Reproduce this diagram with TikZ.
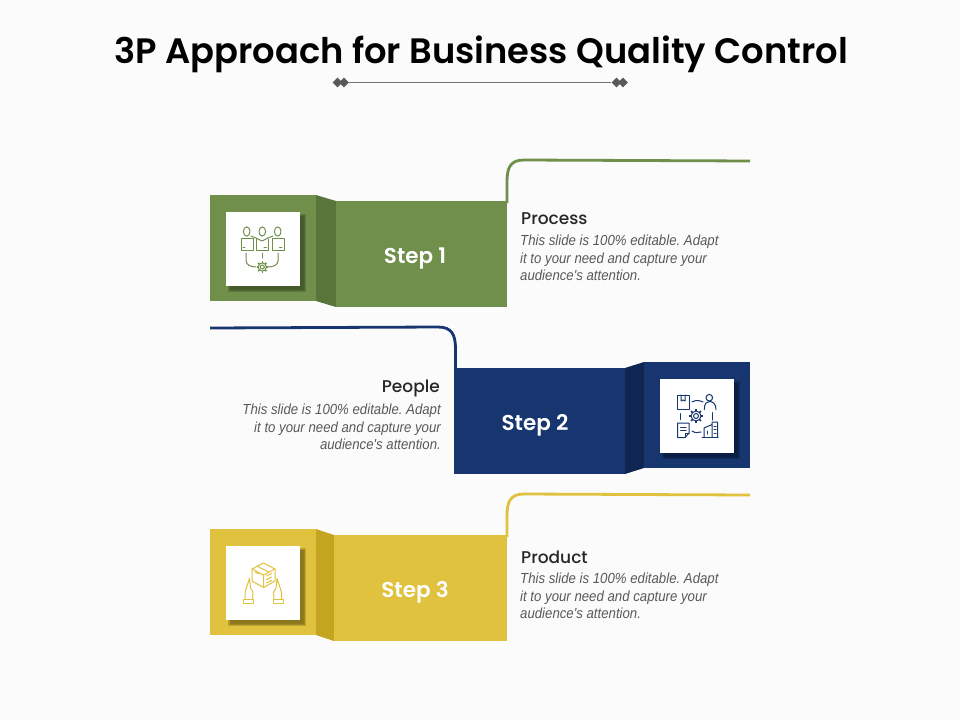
\documentclass[tikz,border=0pt]{standalone}
\usepackage{fontspec}
\usetikzlibrary{shapes.geometric,calc}
\setmainfont{Liberation Sans}
\newfontfamily\titlefont{Poppins SemiBold}
\newfontfamily\stepfont{Poppins Medium}
\newfontfamily\descfont[FakeStretch=0.905]{Liberation Sans}
\definecolor{gA}{HTML}{6F8F4A}\definecolor{gB}{HTML}{5A7539}\definecolor{gC}{HTML}{3F5228}
\definecolor{bA}{HTML}{17356F}\definecolor{bB}{HTML}{0F2552}\definecolor{bC}{HTML}{0A1A3C}
\definecolor{yA}{HTML}{E0C23E}\definecolor{yB}{HTML}{C4A520}\definecolor{yC}{HTML}{7F6C18}
\definecolor{head}{HTML}{262626}\definecolor{body}{HTML}{595959}\definecolor{orn}{HTML}{595959}
\tikzset{
  panel/.style={inner sep=0,outer sep=0,minimum width=#1},
  mainbox/.style={panel=171pt,minimum height=106pt},
  sqbox/.style={panel=106pt,minimum height=106pt},
  iconbox/.style={panel=74pt,minimum height=74pt,fill=white},
  steptext/.style={text=white,inner sep=0,font=\titlefont\fontsize{21.5}{24}\selectfont},
  ribbon/.style={line width=2.8pt},
  heading/.style={text=head,inner sep=0,font=\stepfont\fontsize{17}{20}\selectfont},
  desc/.style={text=body,inner sep=0,font=\descfont\itshape\frenchspacing\fontsize{14.6}{17.6}\selectfont},
  icon/.style={line width=1pt,fill=none,line cap=round,line join=round},
  gem/.style={fill=orn,draw=none,diamond,inner sep=0,minimum size=10pt},
}
\newcommand{\gearicon}[4]{% x y r colour
  \draw[#4,line width=1pt] (#1,#2) circle (#3*0.42);
  \draw[#4,line width=1pt] (#1,#2) circle (#3*0.85);
  \foreach \a in {0,45,...,315}{\draw[#4,line width=1.5pt] ($(#1,#2)+(\a:#3*0.85)$) -- ($(#1,#2)+(\a:#3*1.2)$);}
}
\newcommand{\softshadow}[3]{% x y colour (top-left of the 74 square)
  \foreach \e in {2,1.2,0.5,-0.2,-0.9}{
    \fill[#3,opacity=.32] ($(#1,#2)+(-\e,-\e)$) rectangle ($(#1,#2)+(74+\e,74+\e)$);}
}
\begin{document}
\begin{tikzpicture}[x=1pt,y=-1pt]
\useasboundingbox (0,0) rectangle (960,720);
\fill[white!98.5!black] (0,0) rectangle (960,720);

% title
\node[inner sep=0,font=\titlefont\fontsize{35.3}{40}\selectfont,text=black] (title) at (481,54.5) {3P Approach for Business Quality Control};
\node[gem] (dl1) at (337.5,82.5) {};
\node[gem] (dl2) at (344,82.5) {};
\node[gem] (dr1) at (616.5,82.5) {};
\node[gem] (dr2) at (623,82.5) {};
\draw[orn!85,line width=.9pt] (dl2) -- (dr1);

% ===== Step 1
\node[sqbox,fill=gA] (sq1) at (263,248) {};
\fill[gB] (316,195) -- (336,201) -- (336,307) -- (316,301) -- cycle;
\node[mainbox,fill=gA,anchor=north west] (m1) at (336,201) {};
\node[steptext] (s1) at (415,258) {Step 1};
\softshadow{230}{216}{gC}
\node[iconbox] (ic1) at (263,249) {};
\coordinate (l1a) at (507,203);
\coordinate (l1b) at (750,161);
\draw[ribbon,gA] (l1a) -- (507,182) .. controls (507,168) and (510,160) .. (524,160) -- (l1b);
\node[heading,anchor=west] (h1) at (521,219) {Process};
\node[desc,anchor=west,align=left] (d1) at (520,258) {This slide is 100\% editable. Adapt\\it to your need and capture your\\audience's attention.};
\begin{scope}[icon,gA]
  \foreach \x in {246.7,262.3,277.7}{\draw (\x,231.5) ellipse (3.3pt and 4.6pt);}
  \draw (241,238) -- (253,238) -- (253,250.5) -- (241,250.5) -- cycle;
  \draw (256,239) -- (256,250.5) -- (268.5,250.5) -- (268.5,239);
  \draw (272,238) -- (284,238) -- (284,250.5) -- (272,250.5) -- cycle;
  \draw (251,236) -- (256,238) -- (262,241) -- (268,238) -- (273,236);
  \draw (243,247.5) -- (245,247.5) (264,247.5) -- (266.5,247.5) (279.5,247.5) -- (282,247.5);
  \draw (246.2,253) -- (246.2,261) .. controls (246.2,265) and (251,267) .. (256,267);
  \draw (262.3,253) -- (262.3,258);
  \draw (278,253) -- (278,261) .. controls (278,265) and (273,267) .. (268,267);
\end{scope}
\gearicon{262.3}{267}{4.8}{gA}

% ===== Step 2
\node[mainbox,fill=bA,anchor=north west] (m2) at (454,368) {};
\node[steptext] (s2) at (535,425) {Step 2};
\fill[bB] (625,368) -- (644,362) -- (644,468) -- (625,474) -- cycle;
\node[sqbox,fill=bA] (sq2) at (697,415) {};
\softshadow{664}{383}{bC}
\node[iconbox] (ic2) at (697,416) {};
\coordinate (l2a) at (455.5,370);
\coordinate (l2b) at (210,328);
\draw[ribbon,bA] (l2a) -- (455.5,349) .. controls (455.5,335) and (452,327) .. (438,327) -- (l2b);
\node[heading,anchor=east] (h2) at (440,388) {People};
\node[desc,anchor=east,align=right] (d2) at (441,427) {This slide is 100\% editable. Adapt\\it to your need and capture your\\audience's attention.};
\begin{scope}[icon,bA]
  \draw (677,395) -- (689,395) -- (689,409.5) -- (677,409.5) -- cycle;
  \draw (681,395) -- (681,401) -- (683,400) -- (685,401) -- (685,395);
  \draw (709.3,397.7) circle (3.3pt);
  \draw (704.3,409.5) .. controls (704.3,403) and (707,401.5) .. (709.5,401.5) .. controls (712,401.5) and (716,403) .. (716,409.5);
  \draw (692,402) .. controls (695,400) and (699,400) .. (703,402);
  \draw (680.5,413.5) -- (680.5,419.5);
  \draw (712.5,412.5) -- (712.5,420);
  \draw (692,431) .. controls (695,433) and (698,433) .. (701,432);
  \draw (677.5,423) -- (689,423) -- (689,433) -- (685,437.5) -- (677.5,437.5) -- cycle;
  \draw (689,433) -- (685,433) -- (685,437.5);
  \draw (680.5,427) -- (686,427) (680.5,430) -- (686,430);
  \draw (702,437.5) -- (718,437.5);
  \draw (704,437.5) -- (704,428) -- (712,424.5) (712,437.5) -- (712,422) -- (717.5,422) -- (717.5,437.5);
  \draw (714,426) -- (716,426) (714,429.5) -- (716,429.5) (714,433) -- (716,433);
  \draw (707.5,431) -- (707.5,434);
\end{scope}
\gearicon{696}{416}{5.8}{bA}

% ===== Step 3
\node[sqbox,fill=yA] (sq3) at (263,582) {};
\fill[yB] (316,529) -- (334,535) -- (334,641) -- (316,635) -- cycle;
\node[mainbox,fill=yA,anchor=north west,minimum width=173pt] (m3) at (334,535) {};
\node[steptext] (s3) at (415,592) {Step 3};
\softshadow{230}{550}{yC}
\node[iconbox] (ic3) at (263,583) {};
\coordinate (l3a) at (507,537);
\coordinate (l3b) at (750,495);
\draw[ribbon,yA] (l3a) -- (507,516) .. controls (507,502) and (510,494) .. (524,494) -- (l3b);
\node[heading,anchor=west] (h3) at (521,557) {Product};
\node[desc,anchor=west,align=left] (d3) at (520,596) {This slide is 100\% editable. Adapt\\it to your need and capture your\\audience's attention.};
\begin{scope}[icon,yA]
  \draw (263.5,563) -- (275,569) -- (275,581) -- (263.5,587.5) -- (252,581) -- (252,569) -- cycle;
  \draw (252,569) -- (263.5,575) -- (275,569) (263.5,575) -- (263.5,587.5);
  \draw (257,566) -- (268.5,572) (255,572) -- (259,574);
  \draw (266.5,576) -- (271.5,573.5) (266.5,579.5) -- (271.5,577) (266.5,583) -- (271.5,580.5);
  % hands
  \draw (243.5,599) rectangle (253.5,603.5);
  \draw (245,599) -- (245,592) -- (249.5,578.5) -- (250.5,588) -- (253,592) -- (252.5,599);
  \draw (273,599) rectangle (283,603.5);
  \draw (281.5,599) -- (281.5,592) -- (277,578.5) -- (276,588) -- (273.5,592) -- (274,599);
\end{scope}
\end{tikzpicture}
\end{document}
